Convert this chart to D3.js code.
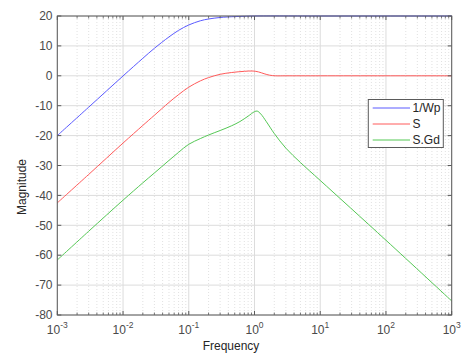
<!DOCTYPE html>
<html><head><meta charset="utf-8">
<script src="https://cdn.jsdelivr.net/npm/d3@7"></script>
<style>body{margin:0;background:#fff;}svg{display:block;font-family:"Liberation Sans",Arial,sans-serif;}</style>
</head><body>
<svg id="c" width="464" height="353"></svg>
<script>
const seriesNames = ["1/Wp", "S", "S.Gd"];
const seriesColors = ["#5a5aff", "#ff5a5a", "#55c855"];
const freqWp = [0.001, 0.003, 0.01, 0.02, 0.03, 0.05, 0.07, 0.1, 0.15, 0.2, 0.3, 0.5, 0.7, 1, 10, 100, 1000];
const magWp  = [-20, -10.5, -0.05, 5.85, 9.2, 13.0, 15.2, 17.0, 18.4, 19.0, 19.5, 19.8, 19.9, 20, 20, 20, 20];
const freqS = [0.001, 0.003, 0.01, 0.02, 0.03, 0.05, 0.07, 0.1, 0.15, 0.2, 0.3, 0.45, 0.7, 0.95, 1.15, 1.4, 1.7, 2.1, 3, 10, 100, 1000];
const magS  = [-42.5, -33, -22.5, -16.6, -13.2, -8.9, -6.3, -3.8, -1.7, -0.6, 0.5, 1.1, 1.5, 1.6, 1.3, 0.7, 0.2, 0, 0, 0, 0, 0];
const freqSGd = [0.001, 0.003, 0.01, 0.02, 0.03, 0.05, 0.07, 0.1, 0.15, 0.2, 0.3, 0.45, 0.6, 0.8, 1.0, 1.1, 1.25, 1.5, 2, 3, 5, 10, 100, 1000];
const magSGd  = [-61.6, -52, -41.6, -35.8, -32.5, -28.3, -25.6, -22.9, -21.0, -19.8, -18.3, -16.7, -15.3, -13.5, -12.0, -11.8, -12.8, -15.2, -19.3, -24.2, -29.0, -35, -55, -75.3];
const xTickExps = [-3, -2, -1, 0, 1, 2, 3];
const yTicks = [-80, -70, -60, -50, -40, -30, -20, -10, 0, 10, 20];
const xLabel = "Frequency";
const yLabel = "Magnitude";

const svg = d3.select("#c");
const L = 57.3, R = 451.7, T = 16, B = 315;
const x = d3.scaleLog().domain([1e-3, 1e3]).range([L, R]);
const y = d3.scaleLinear().domain([-80, 20]).range([B, T]);

const minor = [];
for (let e = -3; e < 3; e++) for (let m = 2; m <= 9; m++) minor.push(m * Math.pow(10, e));

const g = svg.append("g");
g.append("rect").attr("x", L).attr("y", T).attr("width", R - L).attr("height", B - T).attr("fill", "#fff");
// minor grid
g.selectAll(".mg").data(minor).enter().append("line")
  .attr("x1", d => x(d)).attr("x2", d => x(d)).attr("y1", T).attr("y2", B)
  .attr("stroke", "#d4d4d4").attr("stroke-width", 0.7).attr("stroke-dasharray", "1,2");
// major grid
g.selectAll(".gx").data(xTickExps).enter().append("line")
  .attr("x1", d => x(Math.pow(10, d))).attr("x2", d => x(Math.pow(10, d))).attr("y1", T).attr("y2", B)
  .attr("stroke", "#dcdcdc").attr("stroke-width", 1);
g.selectAll(".gy").data(yTicks).enter().append("line")
  .attr("x1", L).attr("x2", R).attr("y1", d => y(d)).attr("y2", d => y(d))
  .attr("stroke", "#dcdcdc").attr("stroke-width", 1);

// curves
const series = [[freqWp, magWp], [freqS, magS], [freqSGd, magSGd]];
const line = d3.line().x(d => x(d[0])).y(d => y(d[1])).curve(d3.curveCatmullRom.alpha(0.5));
series.forEach((s, i) => {
  const pts = s[0].map((f, k) => [f, s[1][k]]);
  g.append("path").attr("d", line(pts)).attr("fill", "none")
    .attr("stroke", seriesColors[i]).attr("stroke-width", 1);
});

// box & ticks
const ax = "#5a5a5a";
g.append("rect").attr("x", L).attr("y", T).attr("width", R - L).attr("height", B - T)
  .attr("fill", "none").attr("stroke", ax).attr("stroke-width", 1);
xTickExps.forEach(e => {
  const xx = x(Math.pow(10, e));
  g.append("line").attr("x1", xx).attr("x2", xx).attr("y1", B).attr("y2", B - 4).attr("stroke", ax);
  g.append("line").attr("x1", xx).attr("x2", xx).attr("y1", T).attr("y2", T + 4).attr("stroke", ax);
});
minor.forEach(m => {
  const xx = x(m);
  g.append("line").attr("x1", xx).attr("x2", xx).attr("y1", B).attr("y2", B - 2.5).attr("stroke", ax).attr("stroke-width", 0.8);
  g.append("line").attr("x1", xx).attr("x2", xx).attr("y1", T).attr("y2", T + 2.5).attr("stroke", ax).attr("stroke-width", 0.8);
});
yTicks.forEach(v => {
  const yy = y(v);
  g.append("line").attr("x1", L).attr("x2", L + 4).attr("y1", yy).attr("y2", yy).attr("stroke", ax);
  g.append("line").attr("x1", R).attr("x2", R - 4).attr("y1", yy).attr("y2", yy).attr("stroke", ax);
});

// tick labels
const tc = "#4a4a4a";
yTicks.forEach(v => {
  g.append("text").attr("x", 52.5).attr("y", y(v)).attr("dy", "0.35em").attr("text-anchor", "end")
    .attr("font-size", 12).attr("fill", tc).text(v);
});
xTickExps.forEach(e => {
  const t = g.append("text").attr("x", x(Math.pow(10, e))).attr("y", 334).attr("text-anchor", "middle")
    .attr("font-size", 12).attr("fill", tc);
  t.append("tspan").text("10");
  t.append("tspan").attr("dy", -6).attr("font-size", 8.5).text(e);
});
g.append("text").attr("x", 231).attr("y", 349.5).attr("text-anchor", "middle")
  .attr("font-size", 12).attr("fill", "#262626").text(xLabel);
g.append("text").attr("transform", "translate(26,187) rotate(-90)").attr("text-anchor", "middle")
  .attr("font-size", 12).attr("fill", "#262626").text(yLabel);

// legend
const lg = g.append("g");
lg.append("rect").attr("x", 368.3).attr("y", 99.5).attr("width", 75).attr("height", 48)
  .attr("fill", "#fff").attr("stroke", "#5a5a5a").attr("stroke-width", 1);
seriesNames.forEach((n, i) => {
  const yy = 108 + i * 16;
  lg.append("line").attr("x1", 372.7).attr("x2", 410).attr("y1", yy).attr("y2", yy)
    .attr("stroke", seriesColors[i]).attr("stroke-width", 1);
  lg.append("text").attr("x", 412.5).attr("y", yy).attr("dy", "0.35em").attr("font-size", 12)
    .attr("fill", "#262626").text(n);
});
</script>
</body></html>
